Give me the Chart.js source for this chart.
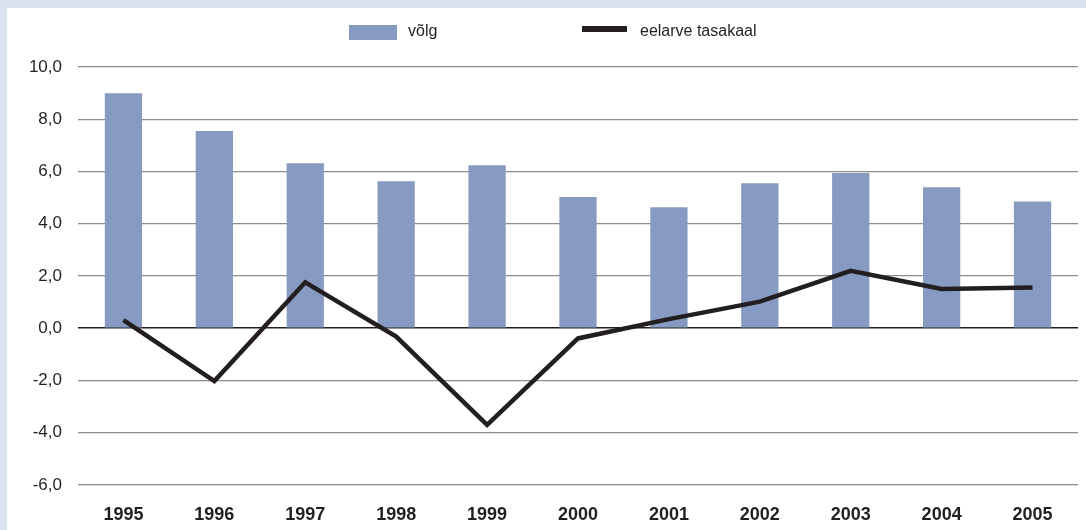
<!DOCTYPE html>
<html>
<head>
<meta charset="utf-8">
<script src="https://cdn.jsdelivr.net/npm/chart.js@4"></script>
<style>
  html, body { margin: 0; padding: 0; }
  body { width: 1086px; height: 530px; background: #dbe2ef; position: relative; overflow: hidden;
         font-family: "Liberation Sans", Arial, sans-serif; color: #231f20; }
  #paper { position: absolute; left: 7px; top: 8px; right: 0; bottom: 0; background: #fff; }
  #wrap { position: absolute; left: 0; top: 0; width: 1086px; height: 530px; }
  .lg { position: absolute; font-size: 16px; line-height: 18px; }
  .sw { position: absolute; }
</style>
</head>
<body>
<div id="paper"></div>
<div id="wrap"><canvas id="chart"></canvas></div>
<!-- legend -->
<div class="sw" style="left:349px;top:25px;width:48px;height:15px;background:#879bc2"></div>
<div class="lg" style="left:408px;top:22px">võlg</div>
<div class="sw" style="left:582px;top:26px;width:45px;height:6px;background:#231f20"></div>
<div class="lg" style="left:640px;top:22px">eelarve tasakaal</div>

<script>
const aastad = ['1995', '1996', '1997', '1998', '1999', '2000', '2001', '2002', '2003', '2004', '2005'];
const volg = [9.0, 7.55, 6.32, 5.63, 6.24, 5.02, 4.63, 5.55, 5.94, 5.4, 4.85];
const tasakaal = [0.31, -2.02, 1.76, -0.32, -3.7, -0.39, 0.35, 1.02, 2.2, 1.5, 1.56];

const FONT = '"Liberation Sans", Arial, sans-serif';

new Chart(document.getElementById('chart'), {
    data: {
        labels: aastad,
        datasets: [
            {
                type: 'line',
                label: 'eelarve tasakaal',
                data: tasakaal,
                borderColor: '#231f20',
                borderWidth: 4.5,
                pointRadius: 0,
                tension: 0,
                order: 0,
            },
            {
                type: 'bar',
                label: 'võlg',
                data: volg,
                backgroundColor: '#879bc2',
                borderWidth: 0,
                categoryPercentage: 1,
                barPercentage: 0.41,
                order: 1,
            },
        ],
    },
    options: {
        responsive: true,
        maintainAspectRatio: false,
        animation: false,
        layout: { padding: { top: 67, right: 8, left: 0, bottom: 0 } },
        plugins: {
            legend: { display: false },
            tooltip: { enabled: false },
        },
        scales: {
            x: {
                offset: true,
                grid: { display: false },
                border: { display: false },
                ticks: {
                    font: { family: FONT, size: 18, weight: 'bold' },
                    color: '#231f20',
                    padding: 11,
                    maxRotation: 0,
                },
                afterFit: (s) => { s.height = 45; },
            },
            y: {
                min: -6,
                max: 10,
                border: { display: false },
                grid: {
                    drawTicks: false,
                    color: (c) => c.tick && c.tick.value === 0 ? '#231f20' : '#8c8c8c',
                    lineWidth: (c) => c.tick && c.tick.value === 0 ? 1.6 : 1.2,
                },
                ticks: {
                    stepSize: 2,
                    padding: 16,
                    font: { family: FONT, size: 17 },
                    color: '#231f20',
                    callback: (v) => v.toFixed(1).replace('.', ','),
                },
                afterFit: (s) => { s.width = 78; },
            },
        },
    },
});
</script>
</body>
</html>
